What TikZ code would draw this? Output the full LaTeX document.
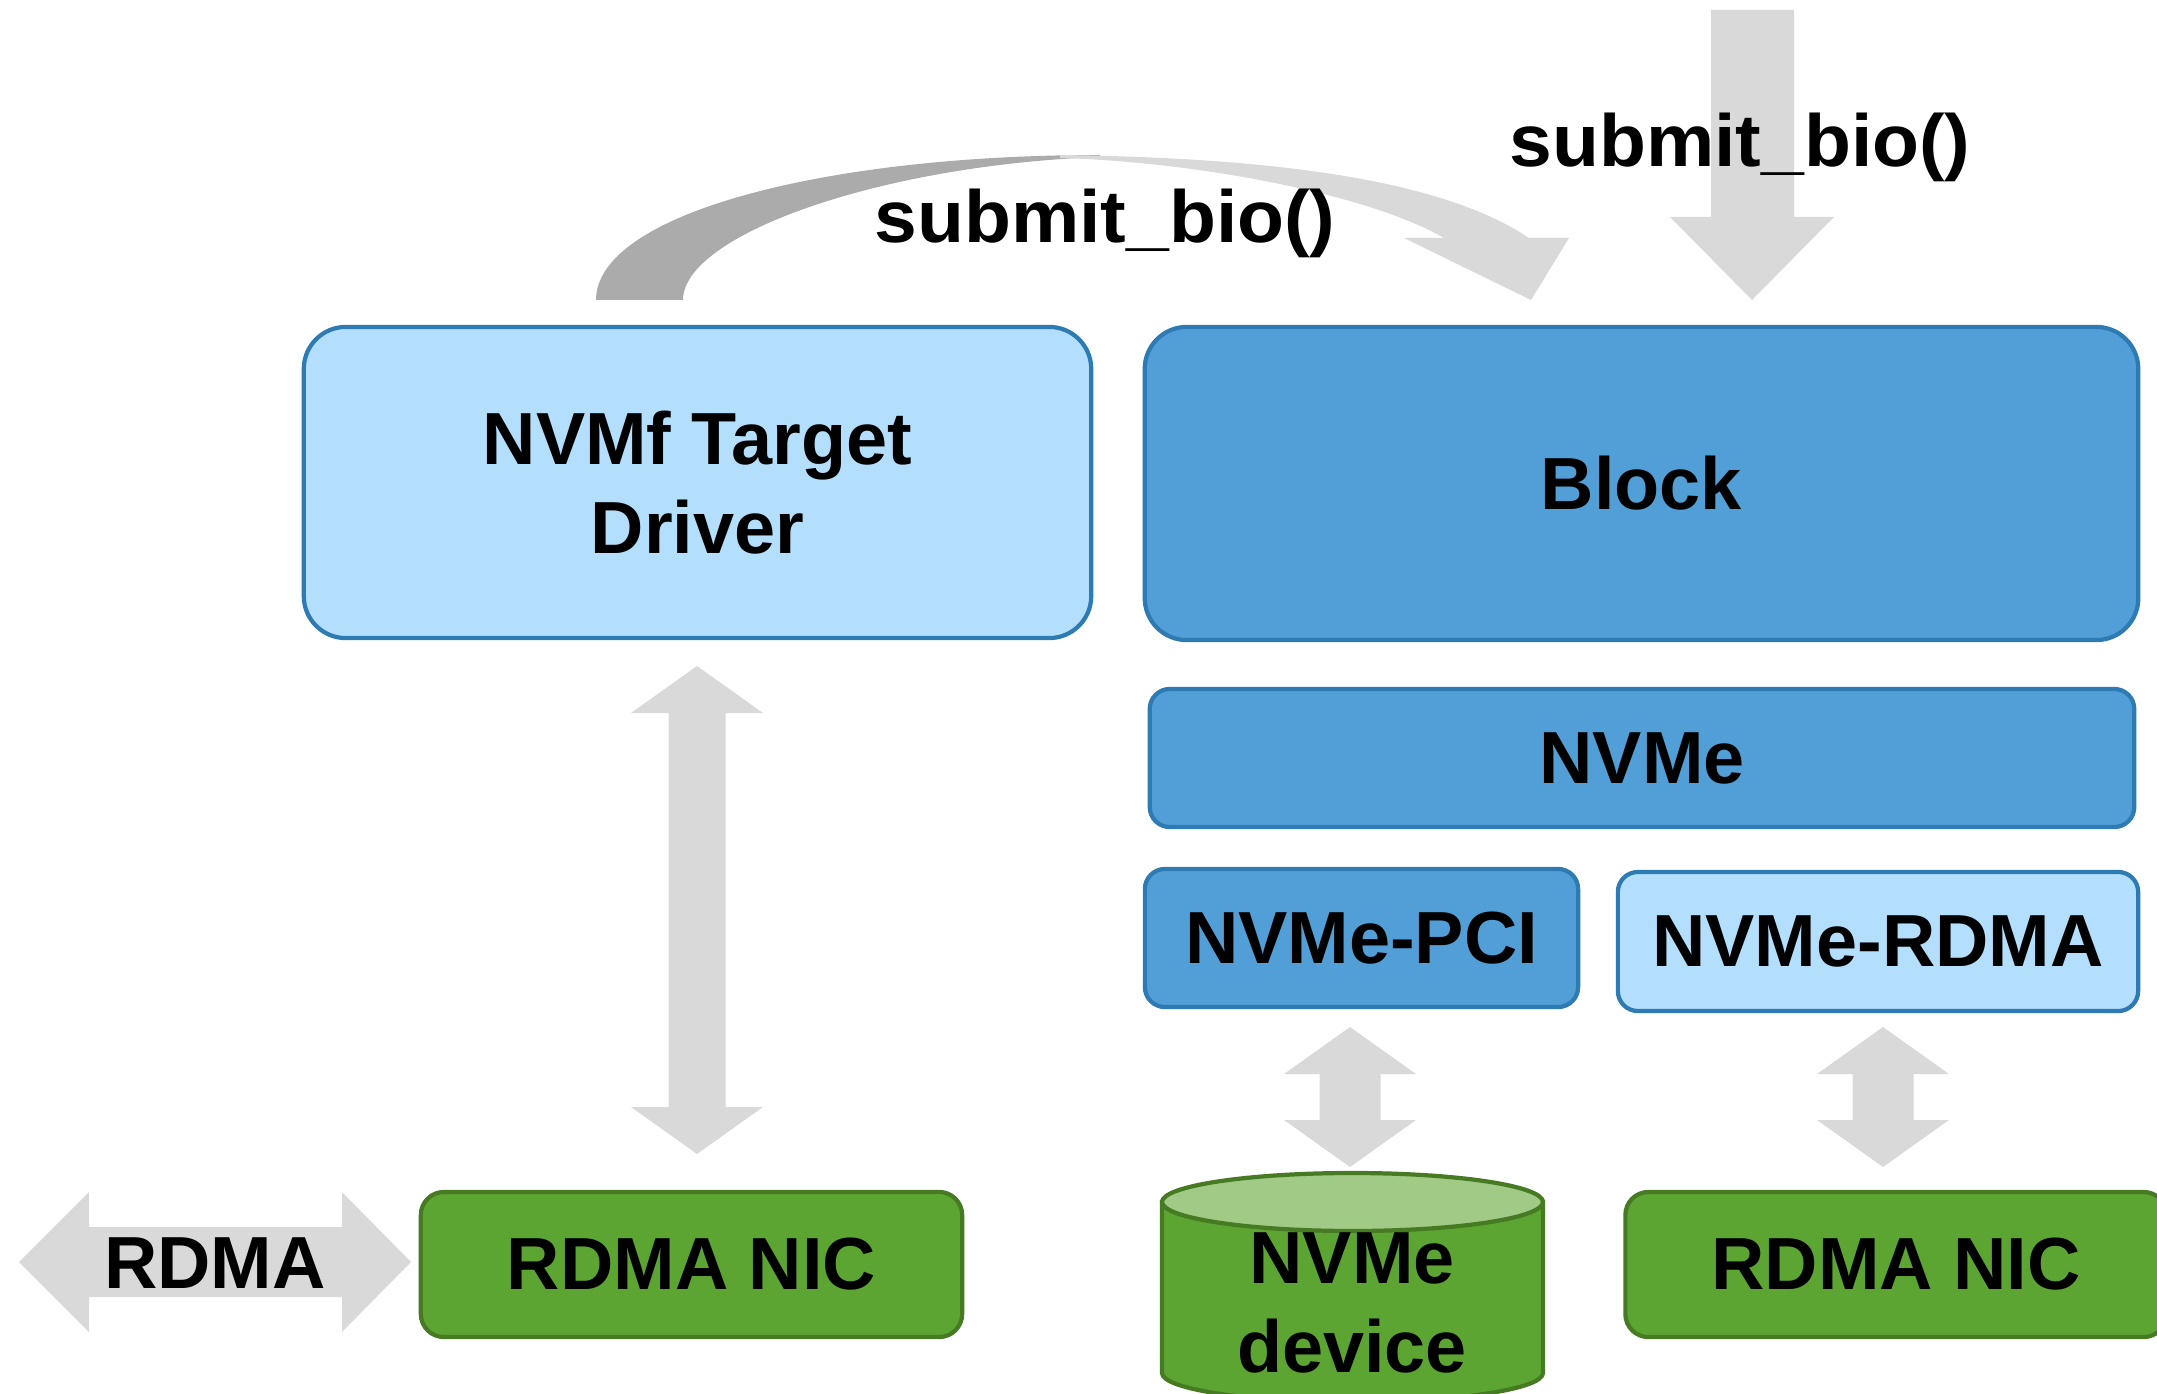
\documentclass[tikz,border=0pt]{standalone}
\usepackage{fontspec}
\setmainfont{Liberation Sans}
\usetikzlibrary{positioning}

\definecolor{lblue}{HTML}{B4DFFC}
\definecolor{mblue}{HTML}{519FD6}
\definecolor{bedge}{HTML}{2E7AB3}
\definecolor{nicgreen}{HTML}{5DA533}
\definecolor{gedge}{HTML}{467A23}
\definecolor{disktop}{HTML}{A0CA86}
\definecolor{arrowgray}{HTML}{D9D9D9}
\definecolor{backgray}{HTML}{ABABAB}

\tikzset{
  layer/.style={draw=bedge, line width=1.2pt, align=center, inner sep=0pt,
    font=\fontsize{21}{25.3}\selectfont\bfseries},
  bigbox/.style={layer, rounded corners=0.42cm},
  smallbox/.style={layer, rounded corners=0.2cm, minimum height=1.38cm},
  nicbox/.style={layer, draw=gedge, fill=nicgreen, rounded corners=0.23cm,
    minimum width=5.41cm, minimum height=1.45cm},
  calltext/.style={anchor=base, inner sep=0pt, font=\fontsize{21}{25}\selectfont\bfseries}
}

\begin{document}
\begin{tikzpicture}[x=0.01cm, y=-0.01cm]
        \useasboundingbox (0,0) rectangle (2157,1394);

        % block arrows
        \foreach \cx/\yt/\yb/\sw in {697/666/1154/28.5, 1350/1027/1167/30.5, 1883/1027/1167/30.5}
            \fill[arrowgray] (\cx,\yt) -- (\cx+66,\yt+47) -- (\cx+\sw,\yt+47) -- (\cx+\sw,\yb-47)
                -- (\cx+66,\yb-47) -- (\cx,\yb) -- (\cx-66,\yb-47) -- (\cx-\sw,\yb-47)
                -- (\cx-\sw,\yt+47) -- (\cx-66,\yt+47) -- cycle;

        \fill[arrowgray] (19,1262) -- (89,1192) -- (89,1227) -- (342,1227) -- (342,1192) -- (411,1262)
            -- (342,1332) -- (342,1297) -- (89,1297) -- (89,1332) -- cycle;

        \fill[arrowgray] (1711,10) -- (1794,10) -- (1794,217) -- (1834,217) -- (1752,300)
            -- (1670,217) -- (1711,217) -- cycle;

        % curved arrow
        \fill[backgray] (596,300) .. controls (596,215) and (820,155) .. (1100,155)
            -- (1100,157) .. controls (880,165) and (683,235) .. (683,300) -- cycle;
        \fill[arrowgray] (1060,155) .. controls (1300,158) and (1450,185) .. (1529,238)
            -- (1569,238) -- (1531,300) -- (1404,238) -- (1444,238)
            .. controls (1370,195) and (1200,162) .. (1060,158) -- cycle;

        % layers
        \node[bigbox, fill=lblue, minimum width=7.87cm, minimum height=3.11cm] (drv) at (697.5,482.5) {NVMf Target\\Driver};
        \node[bigbox, fill=mblue, minimum width=9.93cm, minimum height=3.13cm] (blk) at (1641.5,483.5) {Block};
        \node[smallbox, fill=mblue, minimum width=9.84cm] (nvme) at (1642,758) {NVMe};
        \node[smallbox, fill=mblue, minimum width=4.33cm] (pci) at (1361.5,938) {NVMe-PCI};
        \node[smallbox, fill=lblue, minimum width=5.20cm, minimum height=1.39cm] (rdma) at (1878,941.5) {NVMe-RDMA};

        \node[nicbox] (nicl) at (691.5,1264.5) {RDMA NIC};
        \node[nicbox] (nicr) at (1896,1264.5) {RDMA NIC};

        % disk
        \filldraw[fill=nicgreen, draw=gedge, line width=1.2pt] (1162,1202) -- (1162,1373)
            arc[start angle=180, end angle=0, x radius=190.5, y radius=29] -- (1543,1202) -- cycle;
        \filldraw[fill=disktop, draw=gedge, line width=1.2pt] (1352.5,1202) ellipse [x radius=190.5, y radius=29];
        \node[align=center, inner sep=0pt, font=\fontsize{21}{25.3}\selectfont\bfseries] (dev) at (1352,1303) {NVMe\\device};

        % labels
        \node[inner sep=0pt, font=\fontsize{21}{25.3}\selectfont\bfseries] (rdmalink) at (215,1263) {RDMA};
        \node[calltext] (call1) at (1105,242) {\scalebox{1.04}[1]{submit\_bio()}};
        \node[calltext] (call2) at (1740,167) {\scalebox{1.04}[1]{submit\_bio()}};
\end{tikzpicture}
\end{document}
